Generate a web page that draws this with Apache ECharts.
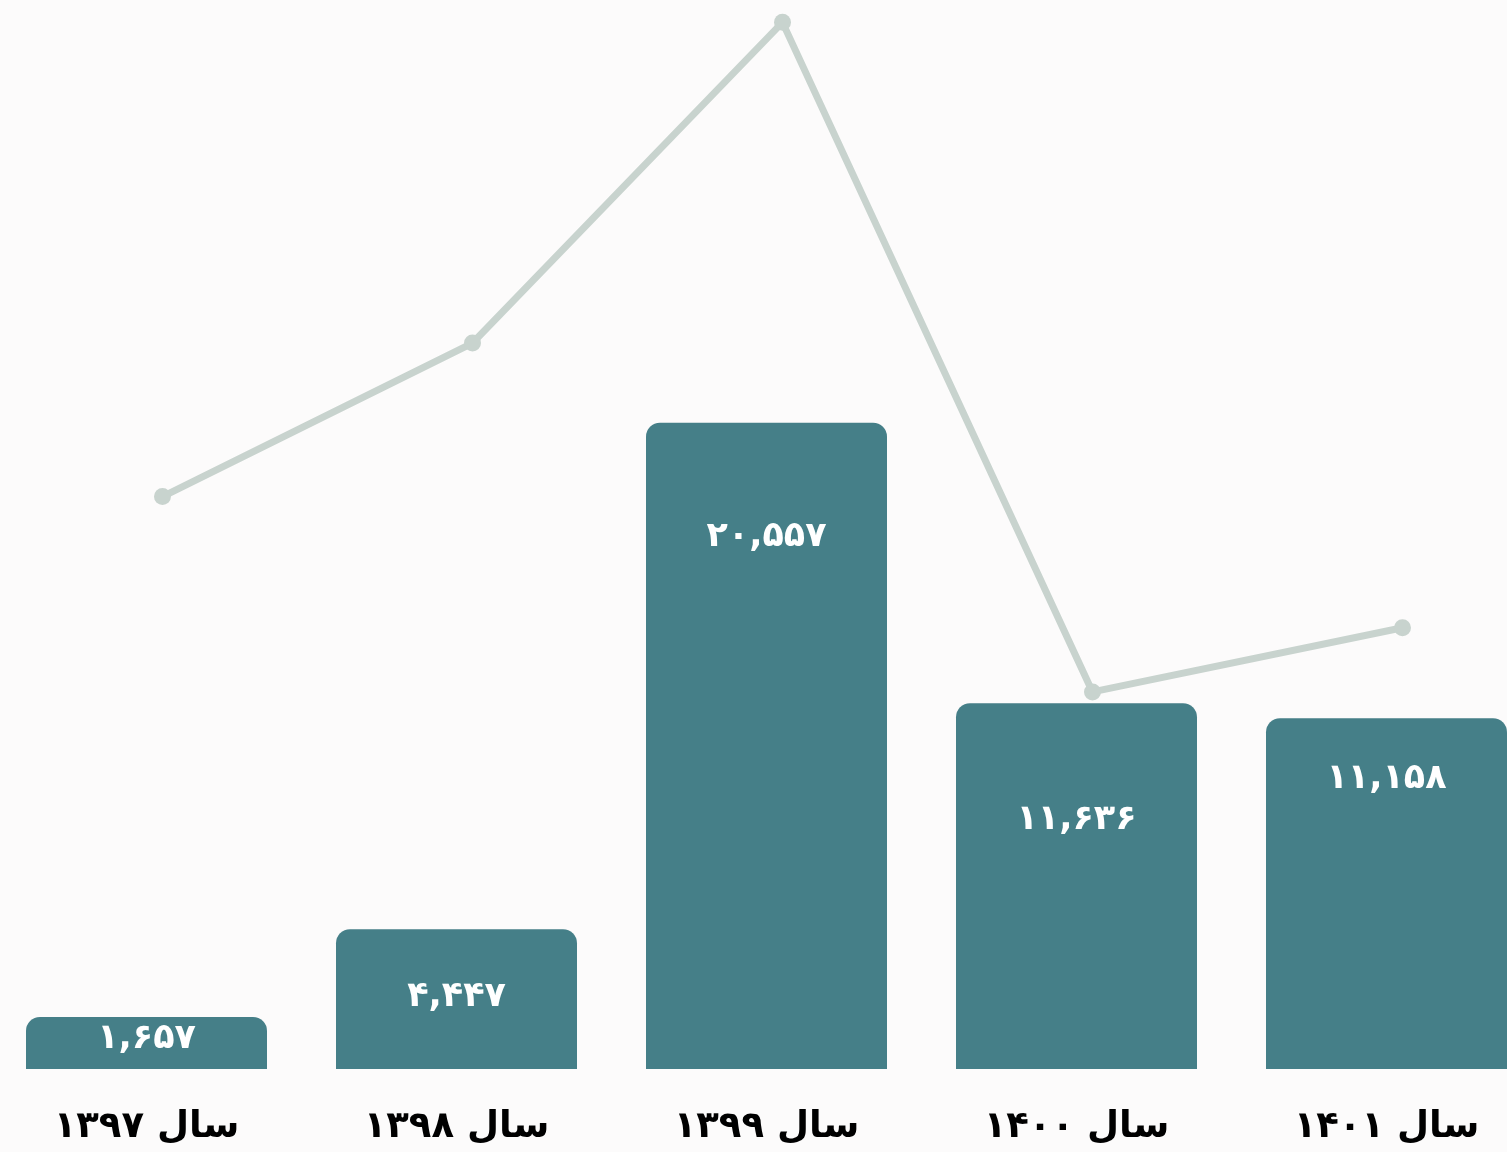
<!DOCTYPE html>
<html>
<head>
<meta charset="utf-8">
<script src="https://cdn.jsdelivr.net/npm/echarts@6/dist/echarts.min.js"></script>
<style>
html,body{margin:0;padding:0;background:#fcfbfb;}
#main{width:1507px;height:1152px;}
</style>
</head>
<body>
<div id="main"></div>
<script>
const categories = ['سال ۱۳۹۷', 'سال ۱۳۹۸', 'سال ۱۳۹۹', 'سال ۱۴۰۰', 'سال ۱۴۰۱'];
const barValues = [1657, 4447, 20557, 11636, 11158];
const lineValues = [58.9, 74.7, 107.7, 38.8, 45.4];
const labelDistance = [5, 50, 97, 99, 43];

const fa = d => String(d).replace(/[0-9]/g, c => '۰۱۲۳۴۵۶۷۸۹'[+c]);
const fmt = v => fa(v.toLocaleString('en-US'));

const chart = echarts.init(document.getElementById('main'));
chart.setOption({
  backgroundColor: '#fcfbfb',
  animation: false,
  grid: [
    {left: -8.5, width: 1550, top: 0, bottom: 83, outerBoundsMode: 'none', containLabel: false},
    {left: 7.5, width: 1550, top: 0, bottom: 83, outerBoundsMode: 'none', containLabel: false}
  ],
  xAxis: [
    {type: 'category', gridIndex: 0, data: categories,
     axisLine: {show: false}, axisTick: {show: false},
     axisLabel: {margin: 40, fontSize: 37, fontWeight: 'bold', color: '#000',
                 fontFamily: 'DejaVu Sans'}},
    {type: 'category', gridIndex: 1, data: categories, show: false}
  ],
  yAxis: [
    {type: 'value', gridIndex: 0, min: 0, max: 34000, show: false, splitLine: {show: false}},
    {type: 'value', gridIndex: 1, min: 0, max: 110, show: false, splitLine: {show: false}}
  ],
  series: [
    {type: 'bar', xAxisIndex: 0, yAxisIndex: 0, barWidth: 241,
     itemStyle: {color: '#457f88', borderRadius: [14, 14, 0, 0]},
     data: barValues.map((v, i) => ({value: v, label: {distance: labelDistance[i]}})),
     label: {show: true, position: 'insideTop', color: '#fff', fontSize: 35,
             fontWeight: 'bold', fontFamily: 'DejaVu Sans',
             formatter: p => fmt(p.value)}},
    {type: 'line', xAxisIndex: 1, yAxisIndex: 1, data: lineValues,
     symbol: 'circle', symbolSize: 17,
     lineStyle: {color: '#c8d3ce', width: 7},
     itemStyle: {color: '#c8d3ce'}}
  ]
});
</script>
</body>
</html>
